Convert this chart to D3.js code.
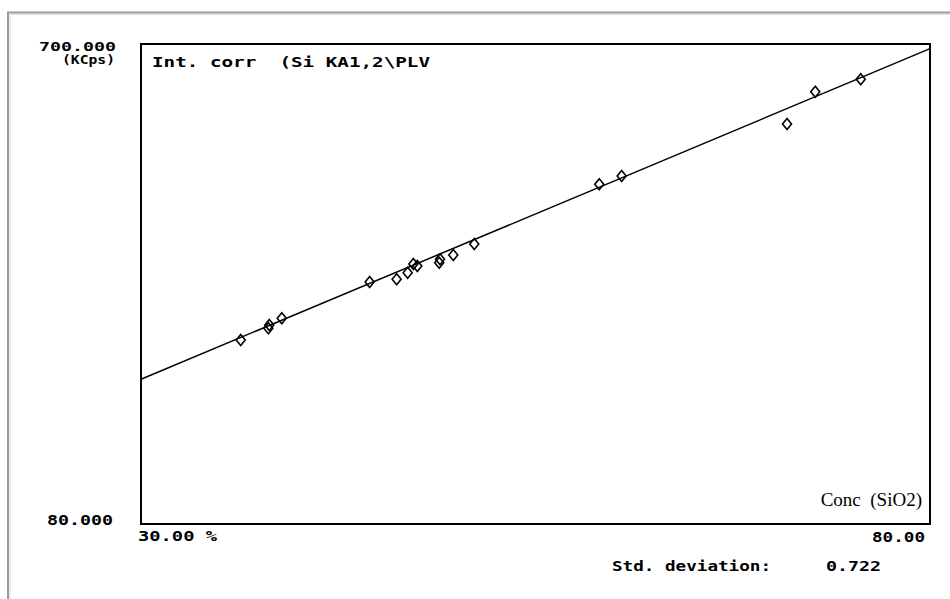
<!DOCTYPE html>
<html>
<head>
<meta charset="utf-8">
<script src="https://cdn.jsdelivr.net/npm/d3@7"></script>
<style>
  html, body { margin: 0; padding: 0; background: #fff; }
  svg { display: block; }
  .mono { font-family: "DejaVu Sans Mono", monospace; font-weight: bold; font-size: 14px; fill: #000; }
  .mono.small { font-size: 12px; }
  .serif { font-family: "Liberation Serif", "DejaVu Serif", serif; font-size: 19px; fill: #000; }
</style>
</head>
<body>
<svg id="chart" width="950" height="599"></svg>
<script>
// Calibration samples: concentration SiO2 (%) vs corrected intensity (KCps)
const concentration = [36.32, 38.07, 38.13, 38.92, 44.49, 46.20, 46.90, 47.26, 47.51,
                       48.90, 48.95, 49.79, 51.12, 59.04, 60.46, 70.94, 72.73, 75.61];
const intensity     = [317.7, 332.8, 337.0, 345.7, 392.6, 396.1, 404.6, 415.8, 413.2,
                       417.5, 421.9, 427.5, 441.7, 518.8, 529.5, 596.7, 638.4, 654.4];

// Fitted calibration line, evaluated at the ends of the concentration range
const fitConc = [30, 80];
const fitInt  = [267, 694];

// Axis range labels
const xDomain = [30, 80];
const yDomain = [80, 700];
const xLabels = ["30.00 %", "80.00"];
const yLabels = ["80.000", "700.000"];
const yUnit = "(KCps)";
const titleText = "Int. corr  (Si KA1,2\\PLV";
const xTitle = "Conc  (SiO2)";
const stdLabel = "Std. deviation:";
const stdValue = "0.722";

const svg = d3.select("#chart");
const box = { left: 141, top: 44, right: 930, bottom: 524 };

const x = d3.scaleLinear().domain(xDomain).range([box.left, box.right]);
const y = d3.scaleLinear().domain(yDomain).range([box.bottom, box.top]);

// Outer window frame
svg.append("path")
  .attr("d", `M8,599 V12.5 H950`)
  .attr("fill", "none").attr("stroke", "#9a9a9a").attr("stroke-width", 2);
svg.append("path")
  .attr("d", `M10,599 V14.5 H950`)
  .attr("fill", "none").attr("stroke", "#dcdcdc").attr("stroke-width", 1);

// Plot frame
svg.append("rect")
  .attr("x", x(xDomain[0])).attr("y", y(yDomain[1]))
  .attr("width", x(xDomain[1]) - x(xDomain[0]))
  .attr("height", y(yDomain[0]) - y(yDomain[1]))
  .attr("fill", "none").attr("stroke", "#000").attr("stroke-width", 2);

// Calibration line
const line = d3.line().x(d => x(d[0])).y(d => y(d[1]));
svg.append("path")
  .datum(fitConc.map((c, i) => [c, fitInt[i]]))
  .attr("d", line)
  .attr("fill", "none").attr("stroke", "#000").attr("stroke-width", 1.5);

// Sample markers (open diamonds)
const diamond = (cx, cy) => `M${cx},${cy - 5.5} L${cx + 4.5},${cy} L${cx},${cy + 5.5} L${cx - 4.5},${cy} Z`;
svg.append("g").selectAll("path")
  .data(concentration.map((c, i) => [c, intensity[i]]))
  .join("path")
  .attr("d", d => diamond(x(d[0]), y(d[1])))
  .attr("fill", "none").attr("stroke", "#000").attr("stroke-width", 1.6);

// Text helper with fixed advance width to mimic the wide terminal font
function monoText(str, xpos, ypos, anchor, len, cls) {
  const t = svg.append("text").attr("class", "mono" + (cls ? " " + cls : ""))
    .attr("x", xpos).attr("y", ypos).attr("text-anchor", anchor)
    .attr("xml:space", "preserve")
    .text(str);
  if (len) t.attr("textLength", len).attr("lengthAdjust", "spacingAndGlyphs");
  return t;
}

// Y axis range labels
monoText(yLabels[1], 116, 51, "end", 77, "small");
monoText(yUnit, 115, 64, "end", 53, "small");
monoText(yLabels[0], 113, 524.5, "end", 66);

// Title inside plot
monoText(titleText, 152, 67, "start", 278);

// X axis range labels
monoText(xLabels[0], 138, 541, "start", 79);
monoText(xLabels[1], 925, 542, "end", 53);

// Statistics
monoText(stdLabel, 612, 571, "start", 159);
monoText(stdValue, 881, 571, "end", 55);

// X axis title
svg.append("text").attr("class", "serif")
  .attr("x", 922).attr("y", 506).attr("text-anchor", "end")
  .attr("xml:space", "preserve")
  .text(xTitle);
</script>
</body>
</html>
